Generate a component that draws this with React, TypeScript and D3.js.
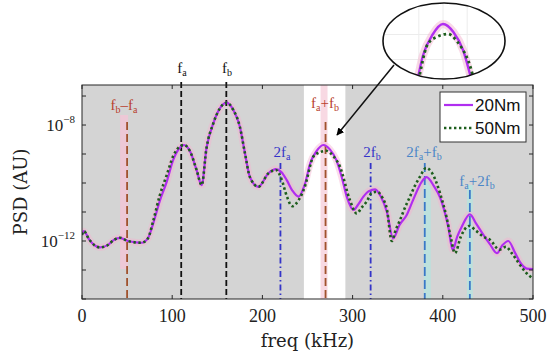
import * as d3 from 'd3';

// frequency (kHz) and log10 PSD
const freq20 = [0, 2, 8, 14, 20, 28, 36, 42, 51, 60, 66, 73, 79, 86, 94, 101, 108, 113, 120, 127, 132.7, 138, 145.6, 153, 160.4, 167.7, 175, 180.7, 186, 195.5, 206.5, 215, 221, 227, 233, 240, 247, 253, 260, 267.5, 275, 282, 288, 293.5, 301, 306, 312, 318, 325, 331, 338, 345, 352, 360, 367, 376.6, 382, 390, 397, 406, 411, 416, 421, 430, 437, 445, 452, 460, 466, 472.6, 480, 486, 493, 500];
const logPsd20 = [-11.79, -11.66, -11.95, -12.15, -12.22, -12.15, -11.95, -11.89, -12.0, -12.05, -12.06, -11.91, -11.39, -10.64, -9.95, -9.21, -8.8, -8.69, -8.92, -9.55, -10.07, -8.8, -7.94, -7.42, -7.23, -7.48, -8.06, -8.98, -9.78, -10.13, -9.67, -9.52, -9.62, -9.9, -10.25, -10.47, -10.05, -9.32, -8.9, -8.69, -8.85, -9.21, -9.8, -10.47, -10.93, -10.75, -10.47, -10.28, -10.22, -10.45, -11.0, -11.91, -11.45, -11.1, -10.59, -9.96, -9.8, -10.1, -10.5, -11.5, -12.31, -11.85, -11.51, -11.08, -11.4, -11.79, -12.1, -12.42, -12.15, -12.0, -12.4, -12.75, -12.95, -12.97];

const freq50 = [0, 2, 8, 14, 20, 28, 36, 42, 51, 60, 66, 73, 79, 86, 94, 101, 108, 113, 120, 127, 132.7, 138, 145.6, 153, 160.4, 167.7, 175, 180.7, 186, 195.5, 206.5, 215, 221, 227, 233, 240, 247, 256.5, 263, 271, 278, 286, 297, 304.5, 310, 315.6, 321, 327, 333, 338, 343.4, 348, 352.5, 358, 363.6, 369, 374.7, 381.5, 388, 397, 404, 409, 413.5, 420, 429, 437, 445, 452, 463, 470, 476, 485, 491, 500];
const logPsd50 = [-11.79, -11.66, -11.95, -12.15, -12.22, -12.15, -11.95, -11.89, -12.0, -12.05, -12.06, -11.91, -11.3, -10.45, -9.72, -9.08, -8.75, -8.69, -8.92, -9.55, -10.07, -8.8, -7.94, -7.42, -7.23, -7.48, -8.06, -8.98, -9.78, -10.13, -9.67, -9.55, -9.85, -10.45, -10.8, -10.6, -10.13, -9.09, -8.95, -8.89, -9.05, -9.44, -10.59, -11.05, -10.85, -10.64, -10.35, -10.3, -10.5, -10.9, -12.0, -11.6, -11.28, -10.85, -10.47, -10.1, -9.78, -9.48, -9.65, -10.36, -11.16, -11.9, -12.42, -11.85, -11.48, -11.65, -11.85, -11.95, -12.3, -12.2, -12.4, -12.8, -13.05, -13.3];

const fa = 110;
const fb = 160;
const xTicks = [0, 100, 200, 300, 400, 500];
const yTickExps = [-14, -13, -12, -11, -10, -9, -8, -7];
const yLabelExps = [-12, -8];
const seriesNames = ['20Nm', '50Nm'];

type Mark = { f: number; parts: [string, string][]; kind: string };
const marks: Mark[] = [
  { f: fb - fa, parts: [['f', 'b'], ['\u2013f', 'a']], kind: 'brown' },
  { f: fa, parts: [['f', 'a']], kind: 'black' },
  { f: fb, parts: [['f', 'b']], kind: 'black' },
  { f: fa + fb, parts: [['f', 'a'], ['+f', 'b']], kind: 'brown' },
  { f: 2 * fa, parts: [['2f', 'a']], kind: 'blue' },
  { f: 2 * fb, parts: [['2f', 'b']], kind: 'blue' },
  { f: 2 * fa + fb, parts: [['2f', 'a'], ['+f', 'b']], kind: 'steel' },
  { f: fa + 2 * fb, parts: [['f', 'a'], ['+2f', 'b']], kind: 'steel' },
];

const styles: Record<string, { line: string; text: string; dash: string }> = {
  black: { line: '#111', text: '#111', dash: '6 3' },
  brown: { line: '#a0522d', text: '#b8402c', dash: '8 4' },
  blue: { line: '#3434c8', text: '#3434c8', dash: '6 3 1.5 3' },
  steel: { line: '#3a78c8', text: '#4a86c8', dash: '9 4' },
};

// label position and line top per mark (pixels)
const labelLayout = [
  { tx: 124, ty: 110, top: 122 },
  { tx: 182, ty: 73, top: 82 },
  { tx: 227, ty: 73, top: 82 },
  { tx: 325, ty: 108, top: 122 },
  { tx: 282, ty: 157, top: 163 },
  { tx: 372, ty: 157, top: 163 },
  { tx: 424, ty: 157, top: 163 },
  { tx: 477, ty: 186, top: 190 },
];

const PURPLE = '#b02ef0';
const GREEN = '#1d5e1d';

export default function App() {
  const left = 82, right = 533, top = 85, bottom = 299;
  const x = d3.scaleLinear().domain([0, 500]).range([left, right]);
  const y = d3.scaleLog().domain([1e-14, Math.pow(10, -6.62)]).range([bottom, top]);

  const d20 = freq20.map((f, i) => [f, Math.pow(10, logPsd20[i])] as [number, number]);
  const d50 = freq50.map((f, i) => [f, Math.pow(10, logPsd50[i])] as [number, number]);

  const line = d3
    .line<[number, number]>()
    .x((d) => x(d[0]))
    .y((d) => y(d[1]))
    .curve(d3.curveMonotoneX);

  // inset: zoom on the fa+fb peak
  const ix = d3.scaleLinear().domain([240, 295]).range([405, 481]);
  const iy = d3.scaleLinear().domain([-9.8, -8.65]).range([79.5, 22]);
  const iline = d3
    .line<[number, number]>()
    .x((d) => ix(d[0]))
    .y((d) => iy(Math.log10(d[1])))
    .curve(d3.curveMonotoneX);
  const near = (d: [number, number][]) => d.filter((p) => p[0] >= 230 && p[0] <= 305);

  const serif = '"Liberation Serif", serif';

  return (
    <svg width={550} height={356} style={{ position: 'absolute', left: 0, top: 0 }} fontFamily={serif}>
      <defs>
        <clipPath id="plot">
          <rect x={left} y={top} width={right - left} height={bottom - top} />
        </clipPath>
        <clipPath id="inset">
          <ellipse cx={444} cy={41} rx={61} ry={38} />
        </clipPath>
        <marker id="arrow" viewBox="0 0 10 10" refX={9} refY={5} markerWidth={5} markerHeight={5} orient="auto">
          <path d="M0,0 L10,5 L0,10 z" fill="#000" />
        </marker>
      </defs>
      <rect width={550} height={356} fill="#fff" />

      {/* plot background */}
      <rect x={left} y={top} width={right - left} height={bottom - top} fill="#d4d4d4" />
      <rect x={x(246)} y={top} width={x(292) - x(246)} height={bottom - top} fill="#fff" />
      <g clipPath="url(#plot)">
        <rect x={x(fb - fa) - 7} y={top + 30} width={8} height={bottom - top - 60} fill="#f3c4d6" opacity={0.8} />
        <rect x={x(fa + fb) - 5} y={top} width={7} height={bottom - top} fill="#f6cfdc" opacity={0.8} />
        <rect x={x(2 * fa + fb) - 1} y={top + 90} width={7} height={bottom - top - 90} fill="#b6e4de" opacity={0.8} />
        <rect x={x(fa + 2 * fb) - 3} y={top + 100} width={6} height={bottom - top - 100} fill="#b6e4de" opacity={0.8} />

        {/* halo under the curve */}
        <path d={line(d20) ?? ''} fill="none" stroke="#f4b4d0" strokeWidth={7} opacity={0.45} />
      </g>

      {/* harmonic markers */}
      {marks.map((m, i) => {
        const s = styles[m.kind];
        const L = labelLayout[i];
        const spans: { t: string; sub: boolean; dy: number }[] = [];
        m.parts.forEach((p, j) => {
          spans.push({ t: p[0], sub: false, dy: j === 0 ? 0 : -3 });
          spans.push({ t: p[1], sub: true, dy: 3 });
        });
        return (
          <g key={i}>
            <line x1={x(m.f)} x2={x(m.f)} y1={L.top} y2={bottom} stroke={s.line} strokeWidth={1.8} strokeDasharray={s.dash} />
            <text x={L.tx} y={L.ty} textAnchor="middle" fontSize={15} fill={s.text}>
              {spans.map((sp, j) => (
                <tspan key={j} dy={sp.dy} fontSize={sp.sub ? 10 : 15}>
                  {sp.t}
                </tspan>
              ))}
            </text>
          </g>
        );
      })}

      {/* curves */}
      <g clipPath="url(#plot)">
        <path d={line(d20) ?? ''} fill="none" stroke={PURPLE} strokeWidth={2.2} />
        <path d={line(d50) ?? ''} fill="none" stroke={GREEN} strokeWidth={2.6} strokeDasharray="2.4 2.6" />
      </g>

      {/* frame and ticks */}
      <rect x={left} y={top} width={right - left} height={bottom - top} fill="none" stroke="#262626" strokeWidth={1} />
      {xTicks.map((t) => (
        <g key={t}>
          <line x1={x(t)} x2={x(t)} y1={bottom} y2={bottom - 4} stroke="#262626" />
          <line x1={x(t)} x2={x(t)} y1={top} y2={top + 4} stroke="#262626" />
          <text x={x(t)} y={322} textAnchor="middle" fontSize={18} fill="#222">
            {t}
          </text>
        </g>
      ))}
      {yTickExps.map((e) => (
        <g key={e}>
          <line x1={left} x2={left + 4} y1={y(Math.pow(10, e))} y2={y(Math.pow(10, e))} stroke="#262626" />
          <line x1={right} x2={right - 4} y1={y(Math.pow(10, e))} y2={y(Math.pow(10, e))} stroke="#262626" />
        </g>
      ))}
      {yLabelExps.map((e) => (
        <text key={e} x={75} y={y(Math.pow(10, e)) + 6} textAnchor="end" fontSize={17} fill="#222">
          <tspan>10</tspan>
          <tspan fontSize={11} dy={-8}>
            {'\u2212' + Math.abs(e)}
          </tspan>
        </text>
      ))}

      {/* axis titles */}
      <text x={(left + right) / 2} y={347} textAnchor="middle" fontSize={18} fontFamily='"DejaVu Serif", serif' fill="#222">
        freq (kHz)
      </text>
      <text
        transform={`translate(27,${(top + bottom) / 2}) rotate(-90)`}
        textAnchor="middle"
        fontSize={18}
        fontFamily='"DejaVu Serif", serif'
        fill="#222"
      >
        PSD (AU)
      </text>

      {/* legend */}
      <rect x={440} y={92} width={86} height={50} fill="#fff" stroke="#333" strokeWidth={1} />
      {seriesNames.map((n, i) => (
        <g key={n}>
          <line
            x1={444}
            x2={473}
            y1={105 + i * 23}
            y2={105 + i * 23}
            stroke={i === 0 ? PURPLE : GREEN}
            strokeWidth={i === 0 ? 2.2 : 2.6}
            strokeDasharray={i === 0 ? undefined : '2.4 2.6'}
          />
          <text x={475} y={111 + i * 23} fontSize={17} fontFamily='"Liberation Sans", Arial, sans-serif' fill="#111">
            {n}
          </text>
        </g>
      ))}

      {/* inset */}
      <ellipse cx={444} cy={41} rx={61} ry={38} fill="#fff" />
      <g clipPath="url(#inset)">
        {[ix(250), ix(267.5), ix(285)].map((v, i) => (
          <line key={'v' + i} x1={v} x2={v} y1={0} y2={85} stroke="#ececec" strokeWidth={1} />
        ))}
        {[iy(-9.4), iy(-8.9)].map((v, i) => (
          <line key={'h' + i} x1={380} x2={510} y1={v} y2={v} stroke="#ececec" strokeWidth={1} />
        ))}
        <path d={iline(near(d20)) ?? ''} fill="none" stroke="#f4b4d0" strokeWidth={8} opacity={0.5} />
        <path d={iline(near(d20)) ?? ''} fill="none" stroke={PURPLE} strokeWidth={2.4} />
        <path d={iline(near(d50)) ?? ''} fill="none" stroke={GREEN} strokeWidth={2.8} strokeDasharray="2.6 3" />
      </g>
      <ellipse cx={444} cy={41} rx={61} ry={38} fill="none" stroke="#111" strokeWidth={1.6} />
      <line x1={394} x2={337} y1={65} y2={135} stroke="#111" strokeWidth={1.5} markerEnd="url(#arrow)" />
    </svg>
  );
}
